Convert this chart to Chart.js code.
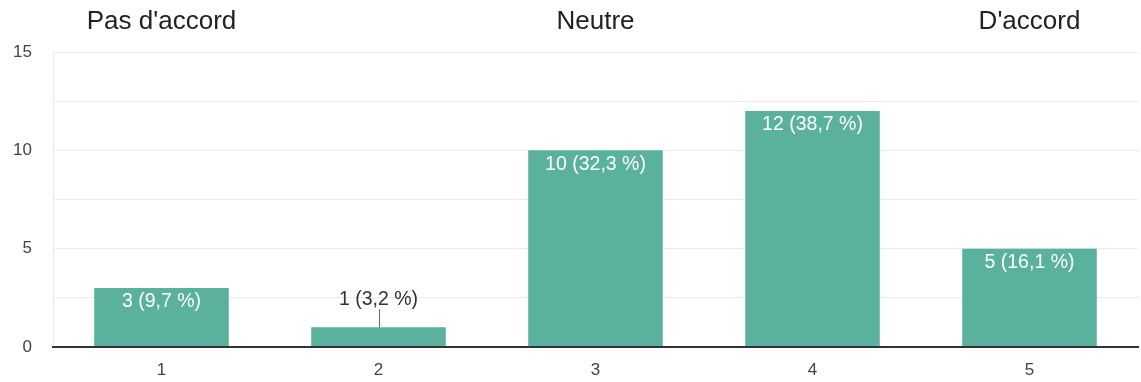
<!DOCTYPE html>
<html>
<head>
<meta charset="utf-8">
<script src="https://cdn.jsdelivr.net/npm/chart.js@4/dist/chart.umd.min.js"></script>
<style>
  html, body { margin: 0; padding: 0; background: #fff; }
  #wrap { width: 1141px; height: 382px; }
</style>
</head>
<body>
<div id="wrap"><canvas id="c" width="1141" height="382"></canvas></div>
<script>
// Likert scale responses
const categories = ['1', '2', '3', '4', '5'];
const counts = [3, 1, 10, 12, 5];
const scaleHeaders = ["Pas d'accord", '', 'Neutre', '', "D'accord"];
const yTickLabels = [0, 5, 10, 15];

const FONT = "'Liberation Sans', Arial, sans-serif";
const BAR_COLOR = '#5ab19e';
const total = counts.reduce((a, b) => a + b, 0);

function pctLabel(v) {
  return v + ' (' + (v / total * 100).toFixed(1).replace('.', ',') + ' %)';
}

// Writes "n (p %)" inside each bar, or above it with a leader line when the bar is short
const barLabels = {
  id: 'barLabels',
  afterDatasetsDraw(chart) {
    const ctx = chart.ctx;
    const meta = chart.getDatasetMeta(0);
    ctx.save();
    ctx.font = '19.5px ' + FONT;
    ctx.textAlign = 'center';
    ctx.textBaseline = 'middle';
    meta.data.forEach((bar, i) => {
      const text = pctLabel(counts[i]);
      const h = bar.base - bar.y;
      if (h > 34) {
        ctx.fillStyle = '#ffffff';
        ctx.fillText(text, bar.x, bar.y + 14);
      } else {
        const ly = bar.y - 28;
        ctx.strokeStyle = '#666666';
        ctx.lineWidth = 1;
        ctx.beginPath();
        ctx.moveTo(Math.round(bar.x) + 0.5, bar.y);
        ctx.lineTo(Math.round(bar.x) + 0.5, ly + 10);
        ctx.stroke();
        ctx.fillStyle = '#333333';
        ctx.fillText(text, bar.x, ly);
      }
    });
    ctx.restore();
  }
};

new Chart(document.getElementById('c'), {
  type: 'bar',
  data: {
    labels: categories,
    datasets: [{
      data: counts,
      backgroundColor: BAR_COLOR,
      borderWidth: 0,
      categoryPercentage: 1,
      barPercentage: 0.62
    }]
  },
  options: {
    responsive: false,
    devicePixelRatio: 1,
    animation: false,
    layout: { padding: { left: 0, right: 3, top: 0, bottom: 0 } },
    plugins: { legend: { display: false }, tooltip: { enabled: false } },
    scales: {
      x: {
        position: 'bottom',
        grid: { display: false },
        border: { display: true, color: '#333333', width: 2, z: 1 },
        ticks: { color: '#444444', font: { family: FONT, size: 17 }, padding: 5 },
        afterFit(s) { s.height = 35; }
      },
      top: {
        type: 'category',
        position: 'top',
        labels: scaleHeaders,
        offset: true,
        grid: { display: false, drawTicks: false },
        border: { display: false },
        ticks: { color: '#222222', font: { family: FONT, size: 26 }, padding: 15, autoSkip: false, maxRotation: 0 },
        afterFit(s) { s.height = 52; }
      },
      y: {
        min: 0,
        max: 15,
        grid: {
          drawTicks: false,
          color: (c) => (c.tick && c.tick.value === 0) ? 'rgba(0,0,0,0)' : '#ebebeb',
          lineWidth: 1
        },
        border: { display: true, color: '#ebebeb', width: 1 },
        ticks: {
          stepSize: 2.5,
          color: '#444444',
          font: { family: FONT, size: 17 },
          padding: 21,
          callback: (v) => yTickLabels.includes(v) ? String(v) : ''
        },
        afterFit(s) { s.width = 53; }
      }
    }
  },
  plugins: [barLabels]
});
</script>
</body>
</html>
